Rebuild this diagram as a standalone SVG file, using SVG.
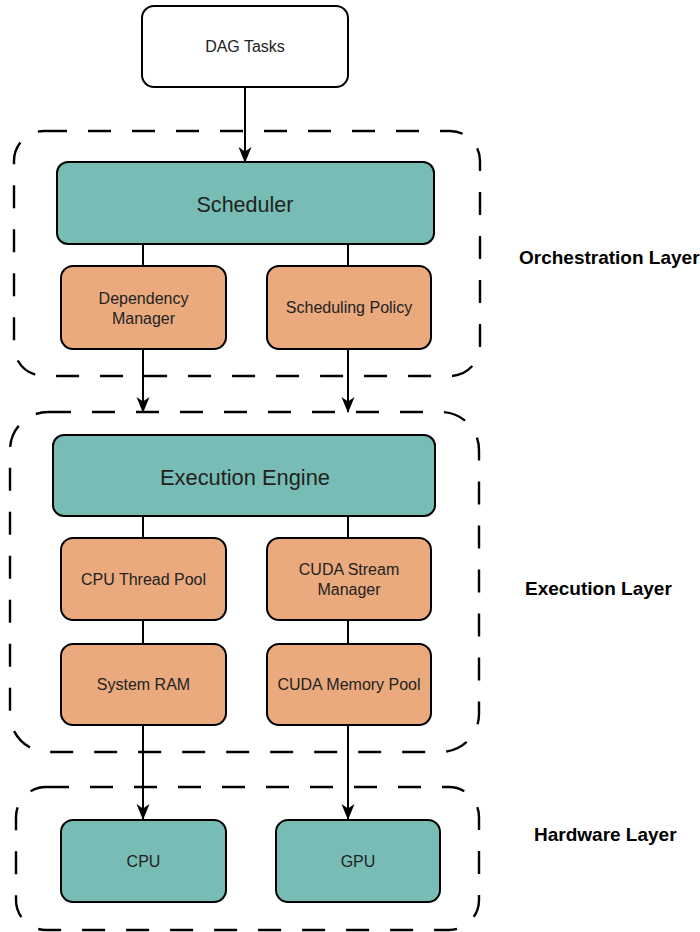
<svg xmlns="http://www.w3.org/2000/svg" width="700" height="932" viewBox="0 0 700 932">
<defs>
<marker id="arrow" markerUnits="userSpaceOnUse" viewBox="0 0 16 14" refX="15" refY="7" markerWidth="16" markerHeight="14" orient="auto">
<path d="M0,0.5 L16,7 L0,13.5 L4.5,7 Z" fill="#000"/>
</marker>
<style>
.layer{fill:none;stroke:#000;stroke-width:2.4;stroke-dasharray:23 21}
.teal{fill:#77BDB5;stroke:#000;stroke-width:2}
.orange{fill:#EAAA7D;stroke:#000;stroke-width:2}
.white{fill:#fff;stroke:#000;stroke-width:2}
.t{font-family:"Liberation Sans",Arial,sans-serif;font-size:16px;fill:#222;text-anchor:middle}
.big{font-size:22px}
.lbl{font-family:"Liberation Sans",Arial,sans-serif;font-size:19px;font-weight:bold;fill:#000}
.conn{stroke:#000;stroke-width:2;fill:none}
</style>
</defs>
<rect width="700" height="932" fill="#fff"/>
<g id="layers">
<rect class="layer" x="14" y="131" width="466" height="245" rx="30"/>
<rect class="layer" x="10" y="412" width="469" height="340" rx="38"/>
<rect class="layer" x="16" y="787" width="463" height="143" rx="30"/>
</g>
<g id="connectors">
<line class="conn" x1="245" y1="87" x2="245" y2="162" marker-end="url(#arrow)"/>
<line class="conn" x1="143" y1="244" x2="143" y2="266"/>
<line class="conn" x1="348" y1="244" x2="348" y2="266"/>
<line class="conn" x1="143" y1="349" x2="143" y2="412" marker-end="url(#arrow)"/>
<line class="conn" x1="348" y1="349" x2="348" y2="412" marker-end="url(#arrow)"/>
<line class="conn" x1="143" y1="516" x2="143" y2="538"/>
<line class="conn" x1="348" y1="516" x2="348" y2="538"/>
<line class="conn" x1="143" y1="620" x2="143" y2="644"/>
<line class="conn" x1="348" y1="620" x2="348" y2="644"/>
<line class="conn" x1="143" y1="725" x2="143" y2="819" marker-end="url(#arrow)"/>
<line class="conn" x1="348" y1="725" x2="348" y2="819" marker-end="url(#arrow)"/>
</g>
<g id="dag-tasks">
<rect class="white" x="142" y="6" width="206" height="81" rx="12"/>
<text class="t" x="245" y="52">DAG Tasks</text>
</g>
<g id="scheduler">
<rect class="teal" x="57" y="162" width="377" height="82" rx="11"/>
<text class="t big" x="245" y="212" textLength="97" lengthAdjust="spacingAndGlyphs">Scheduler</text>
</g>
<g id="dependency-manager">
<rect class="orange" x="61" y="266" width="165" height="83" rx="12"/>
<text class="t" x="143.5" y="304">Dependency</text>
<text class="t" x="143.5" y="324">Manager</text>
</g>
<g id="scheduling-policy">
<rect class="orange" x="267" y="266" width="164" height="83" rx="12"/>
<text class="t" x="349" y="313">Scheduling Policy</text>
</g>
<g id="execution-engine">
<rect class="teal" x="53" y="435" width="382" height="81" rx="11"/>
<text class="t big" x="245" y="485" textLength="170" lengthAdjust="spacingAndGlyphs">Execution Engine</text>
</g>
<g id="cpu-thread-pool">
<rect class="orange" x="61" y="538" width="165" height="82" rx="12"/>
<text class="t" x="143.5" y="585">CPU Thread Pool</text>
</g>
<g id="cuda-stream-manager">
<rect class="orange" x="267" y="538" width="164" height="82" rx="12"/>
<text class="t" x="349" y="575">CUDA Stream</text>
<text class="t" x="349" y="595">Manager</text>
</g>
<g id="system-ram">
<rect class="orange" x="61" y="644" width="165" height="81" rx="12"/>
<text class="t" x="143.5" y="690">System RAM</text>
</g>
<g id="cuda-memory-pool">
<rect class="orange" x="267" y="644" width="164" height="81" rx="12"/>
<text class="t" x="349" y="690">CUDA Memory Pool</text>
</g>
<g id="cpu">
<rect class="teal" x="61" y="820" width="165" height="82" rx="12"/>
<text class="t" x="143.5" y="867">CPU</text>
</g>
<g id="gpu">
<rect class="teal" x="276" y="820" width="164" height="82" rx="12"/>
<text class="t" x="358" y="867">GPU</text>
</g>
<g id="labels">
<text class="lbl" x="519" y="264">Orchestration Layer</text>
<text class="lbl" x="525" y="595">Execution Layer</text>
<text class="lbl" x="534" y="841">Hardware Layer</text>
</g>
</svg>
